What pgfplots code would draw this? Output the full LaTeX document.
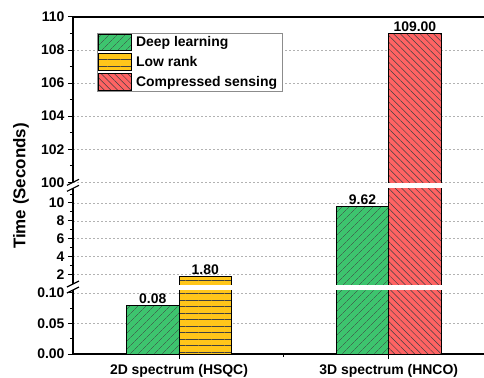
\documentclass[border=0pt]{standalone}
\usepackage{pgfplots}
\pgfplotsset{compat=1.18}
\usepackage{fontspec}
\setmainfont{Liberation Sans}
\usetikzlibrary{patterns.meta}
\definecolor{dlgreen}{RGB}{61,196,110}
\definecolor{lryellow}{RGB}{255,198,26}
\definecolor{csred}{RGB}{255,99,99}
\newcommand{\lbl}{\fontsize{14}{16}\selectfont\bfseries}
\pgfplotsset{
  brk/.style={
    scale only axis, width=411bp,
    xmin=-0.5055, xmax=1.4545,
    anchor=south west,
    axis line style={-, line width=1.3bp},
    tick align=outside,
    major tick length=5bp, minor tick length=3bp,
    every tick/.style={black, line width=1bp},
    ymajorgrids,
    major grid style={dash pattern=on 2bp off 2bp, black!30, line width=0.6bp},
    ticklabel style={font=\lbl},
    clip=true,
  },
  dl/.style={draw=black, line width=0.8bp, fill=dlgreen, mark=none,
    postaction={pattern={Lines[angle=45,distance=6bp,line width=0.5bp]}, pattern color=black!75}},
  lr/.style={draw=black, line width=0.8bp, fill=lryellow, mark=none,
    postaction={pattern={Lines[angle=0,distance=6.5bp,line width=0.5bp]}, pattern color=black!75}},
  cs/.style={draw=black, line width=0.8bp, fill=csred, mark=none,
    postaction={pattern={Lines[angle=-45,distance=4.7bp,line width=0.5bp]}, pattern color=black!75}},
  vl/.style={draw=none, mark=none, forget plot, nodes near coords, point meta=explicit symbolic,
    nodes near coords style={font=\lbl, anchor=south, inner sep=1.5bp}},
}
% bars: Deep learning 0.08 (2D), 9.62 (3D); Low rank 1.80 (2D); Compressed sensing 109.00 (3D)
\newcommand{\bars}{%
  \addplot[dl, forget plot] coordinates {(-0.25,0) (-0.25,0.08) (0,0.08) (0,0)} --cycle;
  \addplot[dl, forget plot] coordinates {(0.75,0) (0.75,9.62) (1,9.62) (1,0)} --cycle;
  \addplot[lr, forget plot] coordinates {(0,0) (0,1.80) (0.25,1.80) (0.25,0)} --cycle;
  \addplot[cs, forget plot] coordinates {(1,0) (1,109) (1.25,109) (1.25,0)} --cycle;
}
\begin{document}
\begin{tikzpicture}
\useasboundingbox (0,0) rectangle (484bp,-378bp);
% bottom segment
\begin{axis}[brk, at={(73bp,-354bp)}, height=64bp,
  ymin=0, ymax=0.1049,
  restrict y to domain*=0:0.3,
  axis x line*=bottom, axis y line*=left,
  xtick={0,1}, xticklabels={2D spectrum (HSQC),3D spectrum (HNCO)},
  minor xtick={0.5},
  ytick={0,0.05,0.1}, yticklabels={0.00,0.05,0.10},
  minor ytick={0.025,0.075},
  tick align=outside,
  xticklabel style={yshift=-2bp},
]
\bars
\addplot[vl] coordinates {(-0.125,0.08)[0.08]};
\end{axis}
% middle segment
\begin{axis}[brk, at={(73bp,-284bp)}, height=95.7bp,
  ymin=0.94, ymax=11.64,
  restrict y to domain*=0:20,
  axis x line=none, axis y line*=left,
  ytick={2,4,6,8,10}, yticklabels={2,4,6,8,10},
  minor ytick={3,5,7,9,11},
  tick align=outside,
]
\bars
\addplot[vl] coordinates {(0.125,1.80)[1.80] (0.875,9.62)[9.62]};
\end{axis}
% top segment
\begin{axis}[brk, at={(73bp,-182.3bp)}, height=165.3bp,
  ymin=100, ymax=110,
  restrict y to domain*=90:120,
  axis x line*=top, axis y line*=left, xtick=\empty,
  ytick={100,102,...,110}, yticklabels={100,102,104,106,108,110},
  minor ytick={101,103,...,109},
  tick align=outside,
  legend style={at={(0.0584,0.903)}, anchor=north west, draw=black!45, line width=0.6bp,
    fill=white, font=\lbl, inner xsep=1bp, inner ysep=0.5bp, row sep=2.2bp,
    nodes={inner xsep=4bp, inner ysep=1bp}},
  legend cell align=left,
  legend image code/.code={\draw[#1] (0bp,-8.3bp) rectangle (33bp,8.3bp);},
]
\bars
\addplot[vl] coordinates {(1.125,109)[109.00]};
\addlegendimage{dl}
\addlegendimage{lr}
\addlegendimage{cs}
\legend{Deep learning, Low rank, Compressed sensing}
\end{axis}
% axis break marks
\draw[line width=1.2bp] (67bp,-185.3bp) -- (79bp,-179.3bp);
\draw[line width=1.2bp] (67bp,-191.3bp) -- (79bp,-185.3bp);
\draw[line width=1.2bp] (67bp,-287bp) -- (79bp,-281bp);
\draw[line width=1.2bp] (67bp,-293bp) -- (79bp,-287bp);
\node[rotate=90, font=\fontsize{17}{19}\selectfont\bfseries] at (21bp,-186bp) {Time (Seconds)};
\end{tikzpicture}
\end{document}
